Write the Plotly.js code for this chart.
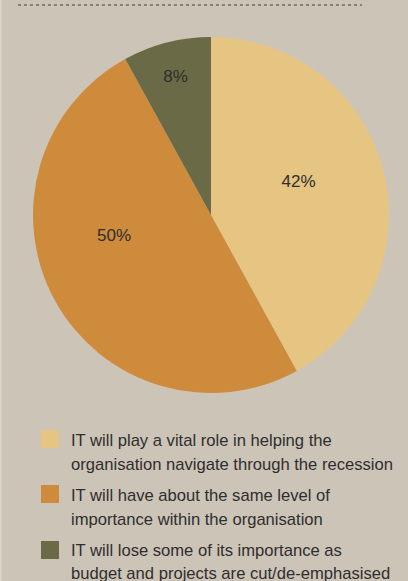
<!DOCTYPE html>
<html>
<head>
<meta charset="utf-8">
<script src="https://cdn.plot.ly/plotly-3.0.1.min.js"></script>
<style>
html,body{margin:0;padding:0;background:#cdc4b8;}
#chart{width:408px;height:581px;}
</style>
</head>
<body>
<div id="chart"></div>
<script>
var categories = [
  "IT will play a vital role in helping the<br>organisation navigate through the recession",
  "IT will have about the same level of<br>importance within the organisation",
  "IT will lose some of its importance as<br>budget and projects are cut/de-emphasised"
];
var values = [42, 50, 8];
var colors = ["#e6c482", "#cf8b3c", "#6a6b46"];

var W = 408, H = 581;
function px(x){ return x / W; }
function py(y){ return 1 - y / H; }

var cx = 211, cy = 215, r = 178;

// invisible padding nudges the library-placed percent labels toward the reference spots
var pad = function(s){ return '<span style="color:rgba(0,0,0,0)">' + s + '</span>'; };
var labelPadRight = ["", pad("0000"), ""];
var labelPadLines = [1, 2, 0];
var labelText = values.map(function(v, i){
  var t = v + "%" + labelPadRight[i];
  for (var k = 0; k < labelPadLines[i]; k++) t += "<br>" + pad(".");
  return t;
});

var data = [{
  type: "pie",
  values: values,
  labels: categories,
  text: labelText,
  sort: false,
  direction: "clockwise",
  rotation: 0,
  marker: {colors: colors, line: {width: 0}},
  textinfo: "text",
  textposition: "inside",
  insidetextorientation: "horizontal",
  textfont: {family: "Liberation Sans, Arial, sans-serif", size: 17, color: "#2e2e2e"},
  hoverinfo: "none",
  showlegend: false,
  domain: {x: [px(cx - r), px(cx + r)], y: [py(cy + r), py(cy - r)]}
}];

var shapes = [
  {type: "line", xref: "paper", yref: "paper", x0: px(18), x1: px(362), y0: py(5), y1: py(5),
   line: {color: "#3a3a3a", width: 1, dash: "dot"}},
  {type: "rect", xref: "paper", yref: "paper", x0: 0, x1: px(1.5), y0: 0, y1: 1,
   fillcolor: "#ddd6cc", line: {width: 0}}
];
var annotations = [];
var squareTops = [430, 485, 541];
var lineCenters = [[440, 464], [495, 519], [550, 573.5]];
for (var i = 0; i < categories.length; i++) {
  var t = squareTops[i];
  shapes.push({type: "rect", xref: "paper", yref: "paper",
    x0: px(41), x1: px(59), y0: py(t + 18), y1: py(t),
    fillcolor: colors[i], line: {width: 0}});
  var lines = categories[i].split("<br>");
  for (var j = 0; j < lines.length; j++) {
    annotations.push({xref: "paper", yref: "paper", x: px(69), y: py(lineCenters[i][j]),
      xanchor: "left", yanchor: "middle", showarrow: false, text: lines[j],
      font: {family: "Liberation Sans, Arial, sans-serif", size: 16.6, color: "#2e2e2e"}});
  }
}

var layout = {
  width: W, height: H,
  margin: {l: 0, r: 0, t: 0, b: 0},
  paper_bgcolor: "#cdc4b8",
  plot_bgcolor: "#cdc4b8",
  showlegend: false,
  shapes: shapes,
  annotations: annotations
};

Plotly.newPlot("chart", data, layout, {displayModeBar: false, staticPlot: true});
</script>
</body>
</html>
